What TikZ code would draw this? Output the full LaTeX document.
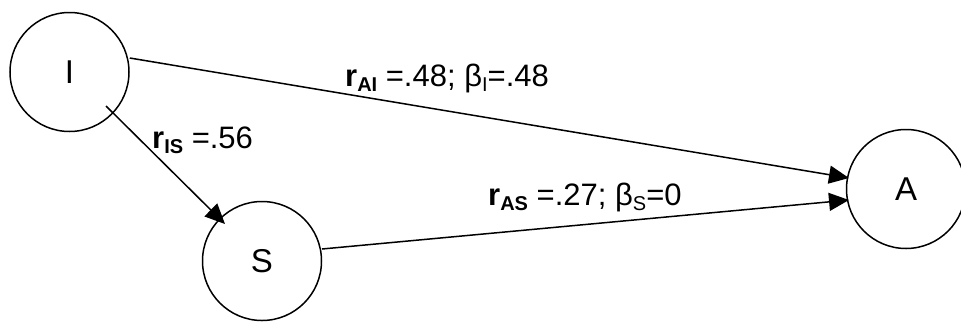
\documentclass[tikz,border=0pt]{standalone}
\usepackage{fontspec}
\setmainfont{Liberation Sans}
\usetikzlibrary{arrows.meta}
\newcommand\lowsub[1]{\raisebox{-0.35ex}{\fontsize{20}{20}\selectfont #1}}
\tikzset{
  var/.style={draw, circle, line width=1.5pt, minimum size=119pt, inner sep=0pt, font=\fontsize{33}{38}\selectfont},
  lab/.style={anchor=base west, inner sep=0pt, font=\fontsize{31}{36}\selectfont},
  conn/.style={line width=1.5pt, -{Triangle[length=20pt,width=18pt]}}
}
\begin{document}
\begin{tikzpicture}[x=1pt,y=-1pt]
\useasboundingbox (0,0) rectangle (961,322);
\node[var] (I) at (69.5,72) {I};
\node[var] (S) at (262,261) {S};
\node[var] (A) at (906,189) {A};
\coordinate (Istart) at (106,106);
\coordinate (Aup) at (849,178);
\coordinate (Adown) at (849,200);
\coordinate (Stip) at (225,224);
\draw[conn] (I.east |- 0,58) -- (Aup);
\draw[conn] (Istart) -- (Stip);
\path (S) ++(60,-12) coordinate (Sout);
\draw[conn] (Sout) -- (Adown);
\node[lab] (l1) at (345,86) {\textbf{r\lowsub{AI}} =.48; β\lowsub{I}=.48};
\node[lab] (l2) at (152,148) {\textbf{r\lowsub{IS}} =.56};
\node[lab] (l3) at (488,205) {\textbf{r\lowsub{AS}} =.27; β\lowsub{S}=0};
\end{tikzpicture}
\end{document}
